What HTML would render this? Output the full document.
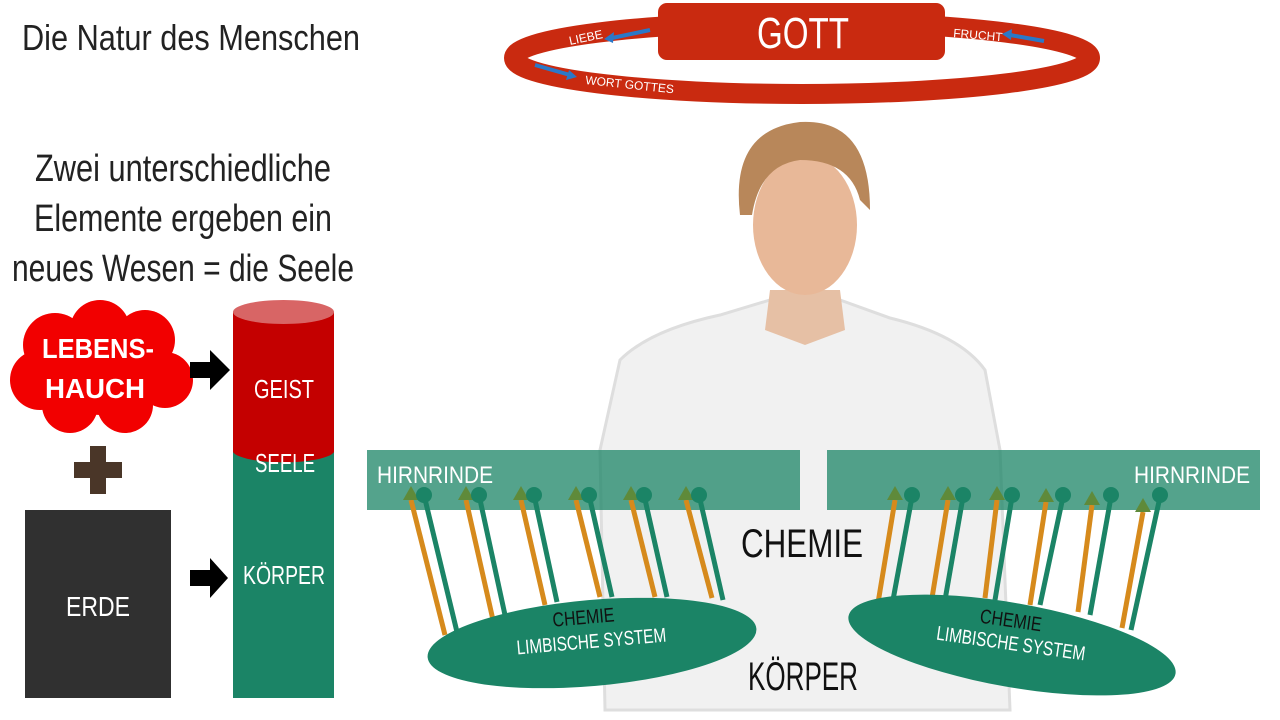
<!DOCTYPE html>
<html><head><meta charset="utf-8"><style>
html,body{margin:0;padding:0;background:#fff;width:1280px;height:720px;overflow:hidden}
svg{display:block}
text{font-family:"Liberation Sans Narrow","Liberation Sans",sans-serif}
</style></head><body>
<svg width="1280" height="720" viewBox="0 0 1280 720" xmlns="http://www.w3.org/2000/svg">
<!-- person -->
<path d="M620,360 Q650,330 720,315 L770,300 L840,300 L890,318 Q960,335 985,370 L1000,450 L1010,710 L605,710 L600,450 Z" fill="#f1f1f1" stroke="#dedede" stroke-width="3"/>
<path d="M770,290 L840,290 L845,330 L805,345 L765,330Z" fill="#e6c0a5"/>
<ellipse cx="805" cy="225" rx="52" ry="70" fill="#e8b898"/>
<path d="M740,215 Q730,130 800,122 Q870,118 870,210 L860,200 Q850,160 800,160 Q760,165 752,215Z" fill="#b8875a"/>
<!-- ring -->
<ellipse cx="802" cy="58" rx="288" ry="36" fill="none" stroke="#c92a10" stroke-width="20"/>
<rect x="658" y="3" width="287" height="57" rx="9" fill="#c92a10"/>
<text x="803" y="48" font-size="44" fill="#fff" text-anchor="middle" textLength="92" lengthAdjust="spacingAndGlyphs">GOTT</text>
<text x="570" y="45" font-size="12" fill="#fff" transform="rotate(-12 570 45)">LIEBE</text>
<path d="M650,30 L612,38" stroke="#2a78c8" stroke-width="4"/><path d="M604,39 L614,32 L613,43z" fill="#2a78c8"/>
<text x="953" y="37" font-size="12" fill="#fff" transform="rotate(5 953 37)">FRUCHT</text>
<path d="M1044,41 L1010,35" stroke="#2a78c8" stroke-width="4"/><path d="M1002,34 L1012,29 L1011,40z" fill="#2a78c8"/>
<path d="M535,65 L570,75" stroke="#2a78c8" stroke-width="4"/><path d="M577,77 L566,80 L569,70z" fill="#2a78c8"/>
<text x="585" y="84" font-size="12" fill="#fff" transform="rotate(6 585 84)">WORT GOTTES</text>
<!-- titles -->
<text x="22" y="50" font-size="36" fill="#222" textLength="338" lengthAdjust="spacingAndGlyphs">Die Natur des Menschen</text>
<text x="183" y="181" font-size="38" fill="#222" text-anchor="middle" textLength="296" lengthAdjust="spacingAndGlyphs">Zwei unterschiedliche</text>
<text x="183" y="231" font-size="38" fill="#222" text-anchor="middle" textLength="298" lengthAdjust="spacingAndGlyphs">Elemente ergeben ein</text>
<text x="183" y="281" font-size="38" fill="#222" text-anchor="middle" textLength="342" lengthAdjust="spacingAndGlyphs">neues Wesen = die Seele</text>
<!-- cloud -->
<g fill="#f20000">
<circle cx="55" cy="345" r="32"/><circle cx="100" cy="330" r="30"/><circle cx="145" cy="340" r="30"/>
<circle cx="40" cy="380" r="30"/><circle cx="165" cy="380" r="28"/><circle cx="70" cy="405" r="28"/>
<circle cx="125" cy="405" r="28"/><circle cx="100" cy="370" r="45"/>
</g>
<text x="98" y="358" font-size="28" font-weight="bold" fill="#fff" text-anchor="middle" textLength="112" lengthAdjust="spacingAndGlyphs">LEBENS-</text>
<text x="95" y="398" font-size="28" font-weight="bold" fill="#fff" text-anchor="middle" textLength="100" lengthAdjust="spacingAndGlyphs">HAUCH</text>
<!-- plus -->
<rect x="74" y="462" width="48" height="16" fill="#4a3628"/><rect x="90" y="446" width="16" height="48" fill="#4a3628"/>
<!-- erde -->
<rect x="25" y="510" width="146" height="188" fill="#303030"/>
<text x="98" y="616" font-size="28" fill="#fff" text-anchor="middle" textLength="64" lengthAdjust="spacingAndGlyphs">ERDE</text>
<!-- arrows black -->
<path d="M190,362 L210,362 L210,350 L230,370 L210,390 L210,378 L190,378z" fill="#000"/>
<path d="M190,570 L210,570 L210,558 L228,578 L210,598 L210,586 L190,586z" fill="#000"/>
<!-- cylinder -->
<rect x="233" y="452" width="101" height="246" fill="#1b8466"/>
<path d="M233,312 L233,452 A51,12 0 0 0 334,452 L334,312z" fill="#c40000"/>
<ellipse cx="283.5" cy="312" rx="50.5" ry="12" fill="#d86565"/>
<text x="284" y="398" font-size="26" fill="#fff" text-anchor="middle" textLength="60" lengthAdjust="spacingAndGlyphs">GEIST</text>
<text x="285" y="472" font-size="26" fill="#fff" text-anchor="middle" textLength="60" lengthAdjust="spacingAndGlyphs">SEELE</text>
<text x="284" y="584" font-size="26" fill="#fff" text-anchor="middle" textLength="82" lengthAdjust="spacingAndGlyphs">KÖRPER</text>
<!-- hirnrinde -->
<rect x="367" y="450" width="433" height="60" fill="#1b8466" fill-opacity="0.75"/>
<rect x="827" y="450" width="433" height="60" fill="#1b8466" fill-opacity="0.75"/>
<text x="377" y="483" font-size="24" fill="#fff" textLength="116" lengthAdjust="spacingAndGlyphs">HIRNRINDE</text>
<text x="1250" y="483" font-size="24" fill="#fff" text-anchor="end" textLength="116" lengthAdjust="spacingAndGlyphs">HIRNRINDE</text>
<!-- lines -->
<g stroke-width="5">
<g stroke="#d68a1c">
<line x1="445" y1="635" x2="411" y2="500"/><line x1="493" y1="620" x2="466" y2="500"/><line x1="545" y1="605" x2="521" y2="500"/>
<line x1="600" y1="597" x2="576" y2="500"/><line x1="655" y1="597" x2="631" y2="500"/><line x1="712" y1="598" x2="686" y2="500"/>
</g>
<g stroke="#1b8466">
<line x1="457" y1="632" x2="424" y2="495"/><line x1="505" y1="615" x2="479" y2="495"/><line x1="557" y1="602" x2="534" y2="495"/>
<line x1="612" y1="597" x2="589" y2="495"/><line x1="667" y1="597" x2="644" y2="495"/><line x1="723" y1="600" x2="699" y2="495"/>
</g>
<g stroke="#d68a1c">
<line x1="878" y1="603" x2="895" y2="500"/><line x1="932" y1="598" x2="948" y2="500"/><line x1="985" y1="598" x2="997" y2="500"/>
<line x1="1030" y1="605" x2="1046" y2="502"/><line x1="1078" y1="612" x2="1092" y2="505"/><line x1="1122" y1="628" x2="1143" y2="512"/>
</g>
<g stroke="#1b8466">
<line x1="893" y1="600" x2="912" y2="497"/><line x1="945" y1="600" x2="963" y2="497"/><line x1="995" y1="600" x2="1012" y2="497"/>
<line x1="1040" y1="605" x2="1063" y2="497"/><line x1="1090" y1="615" x2="1111" y2="497"/><line x1="1131" y1="630" x2="1160" y2="497"/>
</g>
</g>
<g fill="#5f8a3a">
<path d="M403,500 L411,486 L419,500z"/><path d="M458,500 L466,486 L474,500z"/><path d="M513,500 L521,486 L529,500z"/>
<path d="M568,500 L576,486 L584,500z"/><path d="M623,500 L631,486 L639,500z"/><path d="M678,500 L686,486 L694,500z"/>
<path d="M887,500 L895,486 L903,500z"/><path d="M940,500 L948,486 L956,500z"/><path d="M989,500 L997,486 L1005,500z"/>
<path d="M1038,502 L1046,488 L1054,502z"/><path d="M1084,505 L1092,491 L1100,505z"/><path d="M1135,512 L1143,498 L1151,512z"/>
</g>
<g fill="#1b8466">
<circle cx="424" cy="495" r="8"/><circle cx="479" cy="495" r="8"/><circle cx="534" cy="495" r="8"/><circle cx="589" cy="495" r="8"/><circle cx="644" cy="495" r="8"/><circle cx="699" cy="495" r="8"/>
<circle cx="912" cy="495" r="8"/><circle cx="963" cy="495" r="8"/><circle cx="1012" cy="495" r="8"/><circle cx="1063" cy="495" r="8"/><circle cx="1111" cy="495" r="8"/><circle cx="1160" cy="495" r="8"/>
</g>
<!-- limbic ellipses -->
<ellipse cx="592" cy="643" rx="165" ry="43" fill="#1b8466" transform="rotate(-5 592 643)"/>
<ellipse cx="1012" cy="645" rx="166" ry="42" fill="#1b8466" transform="rotate(10 1012 645)"/>
<text x="584" y="624" font-size="20" fill="#111" text-anchor="middle" transform="rotate(-5 584 624)" textLength="62" lengthAdjust="spacingAndGlyphs">CHEMIE</text>
<text x="592" y="648" font-size="20" fill="#fff" text-anchor="middle" transform="rotate(-5 592 648)" textLength="150" lengthAdjust="spacingAndGlyphs">LIMBISCHE SYSTEM</text>
<text x="1010" y="627" font-size="20" fill="#111" text-anchor="middle" transform="rotate(8 1010 627)" textLength="62" lengthAdjust="spacingAndGlyphs">CHEMIE</text>
<text x="1010" y="650" font-size="20" fill="#fff" text-anchor="middle" transform="rotate(8 1010 650)" textLength="150" lengthAdjust="spacingAndGlyphs">LIMBISCHE SYSTEM</text>
<!-- center labels -->
<text x="802" y="557" font-size="40" fill="#111" text-anchor="middle" textLength="122" lengthAdjust="spacingAndGlyphs">CHEMIE</text>
<text x="803" y="690" font-size="40" fill="#111" text-anchor="middle" textLength="110" lengthAdjust="spacingAndGlyphs">KÖRPER</text>
</svg>
</body></html>
